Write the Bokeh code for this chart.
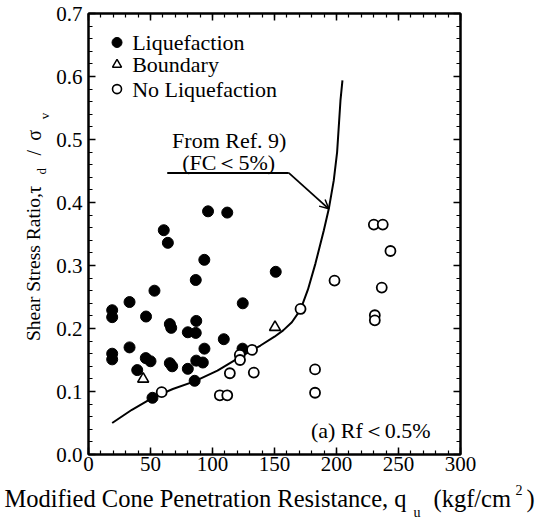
import numpy as np
from bokeh.plotting import figure
from bokeh.layouts import row, column
from bokeh.models import Range1d, LinearAxis, FixedTicker, Label, Arrow, OpenHead
from bokeh.embed import file_html
from bokeh.resources import INLINE

# ---------------- data ----------------
liq_q = [19.1, 19.1, 33.1, 46.4, 53.2, 60.7, 64.0, 86.5, 93.4, 96.4, 111.9, 124.4, 151.0,
         65.6, 66.7, 86.9, 80.1, 86.5, 109.1, 19.1, 19.1, 33.1, 46.2, 50.0, 65.6, 67.5,
         86.9, 92.2, 93.5, 80.1, 39.3, 85.6, 51.6, 124.2]
liq_r = [0.229, 0.218, 0.242, 0.219, 0.260, 0.356, 0.336, 0.277, 0.309, 0.386, 0.384, 0.240, 0.290,
         0.207, 0.201, 0.212, 0.194, 0.193, 0.183, 0.160, 0.151, 0.170, 0.153, 0.148, 0.145, 0.140,
         0.149, 0.146, 0.168, 0.136, 0.134, 0.117, 0.090, 0.168]

bnd_q = [44.1, 150.4]
bnd_r = [0.120, 0.202]

noliq_q = [59.0, 105.9, 111.9, 114.0, 133.3, 122.0, 122.2, 131.9, 171.0, 182.7, 182.7,
           198.4, 230.1, 237.3, 243.5, 236.5, 230.9, 230.9]
noliq_r = [0.099, 0.094, 0.094, 0.129, 0.130, 0.158, 0.150, 0.166, 0.231, 0.135, 0.098,
           0.276, 0.365, 0.365, 0.323, 0.265, 0.221, 0.213]

# reference curve "From Ref. 9) (FC<5%)"
ref_q = [19.1, 35.0, 51.6, 68.0, 85.5, 104.0, 121.8, 138.7, 150.0, 157.0, 164.0, 171.0,
         177.0, 183.0, 189.8, 193.8, 197.8, 200.5, 203.2, 204.8]
ref_r = [0.050, 0.071, 0.090, 0.104, 0.116, 0.133, 0.154, 0.173, 0.187, 0.197, 0.210, 0.230,
         0.262, 0.303, 0.356, 0.390, 0.435, 0.480, 0.562, 0.594]

x_ticks = [0, 50, 100, 150, 200, 250, 300]
x_tick_labels = ["0", "50", "100", "150", "200", "250", "300"]
y_ticks = [0.0, 0.1, 0.2, 0.3, 0.4, 0.5, 0.6, 0.7]
y_tick_labels = ["0.0", "0.1", "0.2", "0.3", "0.4", "0.5", "0.6", "0.7"]

legend_labels = ["Liquefaction", "Boundary", "No Liquefaction"]

FONT = "Liberation Serif"

# ---------------- main figure ----------------
YT_W = 52
MAIN_W, MAIN_H = 538 - YT_W, 478
p = figure(width=MAIN_W, height=MAIN_H, output_backend="svg", toolbar_location=None,
           x_range=Range1d(0, 300), y_range=Range1d(0, 0.7),
           min_border_left=36, min_border_right=78, min_border_top=13, min_border_bottom=24)
p.xgrid.visible = False
p.ygrid.visible = False
p.outline_line_color = "black"
p.outline_line_width = 2
p.background_fill_color = "white"
p.border_fill_color = "white"

x_minor = [float(v) for v in np.arange(0, 301, 10)]
y_minor = [float(v) for v in np.arange(0, 0.7001, 0.02)]


def style_axis(ax, ticks, minor, labels, show):
    ax.ticker = FixedTicker(ticks=ticks, minor_ticks=minor)
    ax.major_tick_in = 7
    ax.major_tick_out = 0
    ax.minor_tick_in = 4
    ax.minor_tick_out = 0
    ax.axis_line_width = 2
    ax.axis_line_color = "black"
    ax.major_tick_line_width = 1.5
    ax.minor_tick_line_width = 1.2
    ax.major_tick_line_color = "black"
    ax.minor_tick_line_color = "black"
    ax.major_label_text_font = FONT
    ax.major_label_text_color = "black"
    if show:
        ax.major_label_overrides = {t: l for t, l in zip(ticks, labels)}
        ax.major_label_text_font_size = "21px"
    else:
        ax.major_label_overrides = {t: "" for t in ticks}
        ax.major_label_text_font_size = "1px"
        ax.major_label_standoff = 0


style_axis(p.xaxis[0], x_ticks, x_minor, x_tick_labels, True)
p.xaxis[0].major_label_standoff = 2
style_axis(p.yaxis[0], y_ticks, y_minor, y_tick_labels, True)
p.yaxis[0].major_label_standoff = 6

top_ax = LinearAxis()
style_axis(top_ax, x_ticks, x_minor, x_tick_labels, False)
p.add_layout(top_ax, "above")
right_ax = LinearAxis()
style_axis(right_ax, y_ticks, y_minor, y_tick_labels, False)
p.add_layout(right_ax, "right")

# curve and annotation
p.line(ref_q, ref_r, line_color="black", line_width=2)

leader_q = [63.5, 161.5]
leader_r = [0.447, 0.447]
p.line(leader_q, leader_r, line_color="black", line_width=2)
p.add_layout(Arrow(end=OpenHead(size=9, line_width=1.5, line_color="black"),
                   x_start=161.5, y_start=0.447, x_end=193.8, y_end=0.390,
                   line_color="black", line_width=1.8))

p.add_layout(Label(x=113.5, y=0.498, text="From Ref. 9)", text_font=FONT, text_font_size="22px",
                   text_align="center", text_baseline="middle", text_color="black"))
p.add_layout(Label(x=113.0, y=0.463, text="(FC\uff1c5%)", text_font=FONT, text_font_size="22px",
                   text_align="center", text_baseline="middle", text_color="black"))
p.add_layout(Label(x=179.4, y=0.038, text="(a)  Rf\uff1c0.5%", text_font=FONT, text_font_size="22px",
                   text_align="left", text_baseline="middle", text_color="black"))

# data marks
p.scatter(liq_q, liq_r, marker="circle", size=11, fill_color="black", line_color="black")
p.scatter(bnd_q, bnd_r, marker="triangle", size=11, fill_color="white", line_color="black",
          line_width=1.6)
p.scatter(noliq_q, noliq_r, marker="circle", size=10, fill_color="white", line_color="black",
          line_width=1.8)

# legend
leg_x = 23.0
leg_y = [0.654, 0.619, 0.580]
p.scatter([leg_x], [leg_y[0]], marker="circle", size=10, fill_color="black", line_color="black")
p.scatter([leg_x], [leg_y[1]], marker="triangle", size=9, fill_color="white", line_color="black",
          line_width=1.5)
p.scatter([leg_x], [leg_y[2]], marker="circle", size=9, fill_color="white", line_color="black",
          line_width=1.6)
for yy, txt in zip(leg_y, legend_labels):
    p.add_layout(Label(x=35.2, y=yy, text=txt, text_font=FONT, text_font_size="22px",
                       text_align="left", text_baseline="middle", text_color="black"))


def blank_fig(w, h):
    f = figure(width=w, height=h, output_backend="svg", toolbar_location=None,
               x_range=Range1d(0, w), y_range=Range1d(0, h),
               min_border=0, min_border_left=0, min_border_right=0,
               min_border_top=0, min_border_bottom=0)
    f.axis.visible = False
    f.grid.visible = False
    f.outline_line_color = None
    f.background_fill_color = "white"
    f.border_fill_color = "white"
    return f


# ---------------- y-axis title panel ----------------
yt = blank_fig(YT_W, MAIN_H)
ang = np.pi / 2


def ylab(x, y, text, size, align):
    yt.add_layout(Label(x=x, y=y, text=text, angle=ang, text_font=FONT, text_font_size=size,
                        text_align=align, text_baseline="middle", text_color="black"))


ylab(33, MAIN_H - 355, "Shear Stress Ratio,", "19.5px", "left")
ylab(33, MAIN_H - 191, "\u03c4", "20px", "center")
ylab(41, MAIN_H - 171, "d", "13px", "center")
ylab(33, MAIN_H - 151, "/", "20px", "center")
ylab(33, MAIN_H - 132, "\u03c3", "20px", "center")
ylab(44, MAIN_H - 111, "v", "13px", "center")

# ---------------- x-axis title panel ----------------
XT_W, XT_H = YT_W + MAIN_W, 41
xt = blank_fig(XT_W, XT_H)


def xlab(x, y, text, size):
    xt.add_layout(Label(x=x, y=y, text=text, text_font=FONT, text_font_size=size,
                        text_align="left", text_baseline="alphabetic", text_color="black"))


xlab(4, 21, "Modified Cone Penetration Resistance, q", "24.5px")
xlab(413, 7, "u", "14px")
xlab(433, 21, "(kgf/cm", "24.5px")
xlab(515, 30, "2", "14px")
xlab(526, 21, ")", "24.5px")

layout = column(row(yt, p, spacing=0), xt, spacing=0)
open("out.html", "w").write(file_html(layout, INLINE))
